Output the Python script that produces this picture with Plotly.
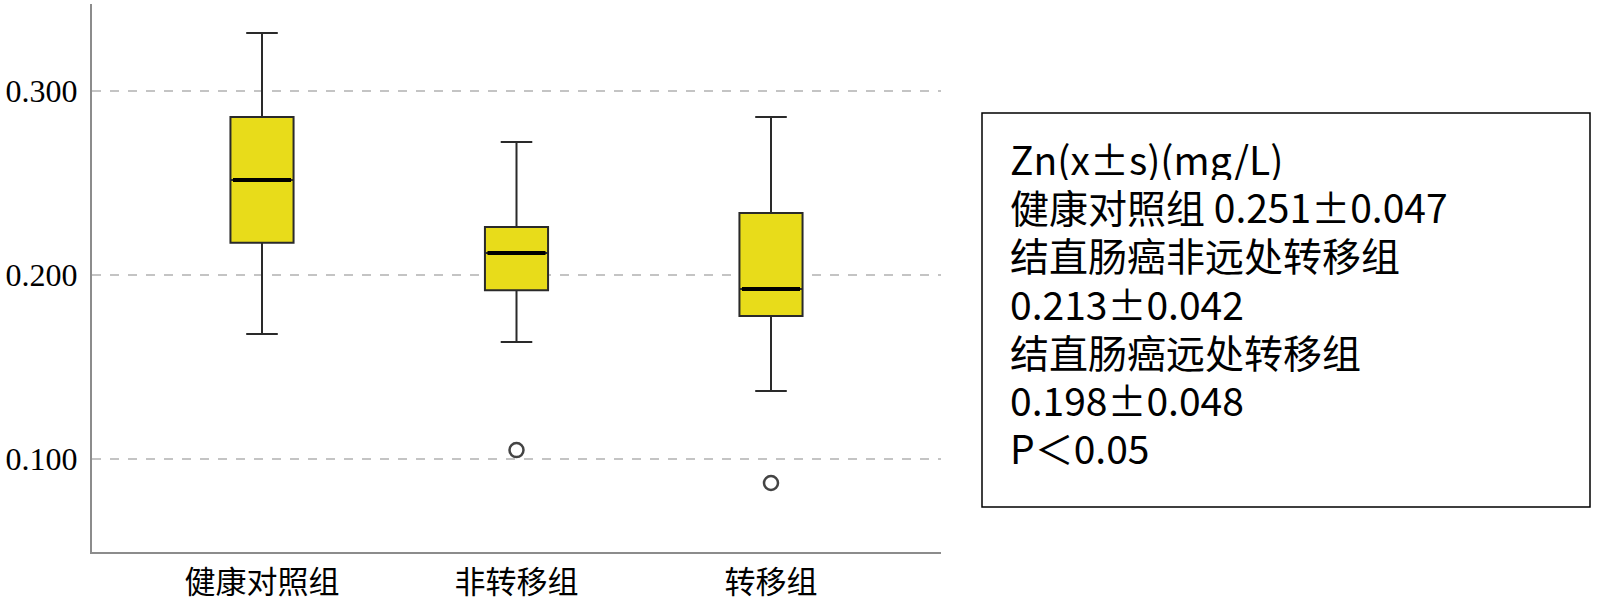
import plotly.graph_objects as go

# groups and box statistics
groups = ["健康对照组", "非转移组", "转移组"]
lower_fence = [0.168, 0.1636, 0.1370]
q1 = [0.2175, 0.1918, 0.1777]
median = [0.2516, 0.2120, 0.1924]
q3 = [0.2859, 0.2261, 0.2337]
upper_fence = [0.3315, 0.2723, 0.2859]

outlier_group = [1, 2]
outlier_value = [0.1049, 0.0870]

y_ticks = [0.1, 0.2, 0.3]
y_tick_text = ["0.100", "0.200", "0.300"]

legend_lines = [
    "Zn(x±s)(mg/L)",
    "健康对照组 0.251±0.047",
    "结直肠癌非远处转移组",
    "0.213±0.042",
    "结直肠癌远处转移组",
    "0.198±0.048",
    "P＜0.05",
]

W, H = 1600, 606
L, R, T, B = 92, 659, 4, 54
box_w = 0.248
fill = "rgb(232,220,26)"

fig = go.Figure()

for i, g in enumerate(groups):
    fig.add_trace(go.Box(
        x=[i], q1=[q1[i]], median=[median[i]], q3=[q3[i]],
        lowerfence=[lower_fence[i]], upperfence=[upper_fence[i]],
        width=box_w, whiskerwidth=0.5,
        fillcolor=fill, line=dict(color="#2a2a2a", width=2),
        boxpoints=False, hoverinfo="skip",
    ))
    # thicker median bar
    fig.add_trace(go.Scatter(
        x=[i - box_w / 2 + 0.01, i + box_w / 2 - 0.01], y=[median[i], median[i]],
        mode="lines", line=dict(color="black", width=4), hoverinfo="skip",
    ))

fig.add_trace(go.Scatter(
    x=outlier_group, y=outlier_value, mode="markers",
    marker=dict(symbol="circle-open", size=14, color="#444",
                line=dict(width=2.5, color="#444")),
    hoverinfo="skip",
))

plot_w = W - L - R
plot_h = H - T - B


def px_x(px):
    return (px - L) / plot_w


def px_y(py):
    return 1 - (py - T) / plot_h


# legend box
fig.add_shape(type="rect", xref="paper", yref="paper",
              x0=px_x(982), x1=px_x(1590), y0=px_y(507), y1=px_y(113),
              line=dict(color="black", width=1.5), fillcolor="white")

for k, line in enumerate(legend_lines):
    fig.add_annotation(
        xref="paper", yref="paper", x=px_x(1008), y=px_y(158 + k * 48.2),
        xanchor="left", yanchor="middle", text=line, showarrow=False,
        height=44, valign="middle",
        font=dict(family="Noto Sans CJK SC", size=39, color="black"),
    )

fig.update_layout(
    width=W, height=H,
    margin=dict(l=L, r=R, t=T, b=B),
    paper_bgcolor="white", plot_bgcolor="white",
    showlegend=False,
    xaxis=dict(
        range=[-0.668, 2.668], tickvals=list(range(len(groups))), ticktext=groups,
        showgrid=False, zeroline=False, showline=True, linecolor="#8c8c8c", linewidth=2,
        ticks="", ticklabelstandoff=2, automargin=False,
        tickfont=dict(family="Noto Sans CJK SC", size=31, color="black"),
    ),
    yaxis=dict(
        range=[0.0495, 0.3473], tickvals=y_ticks, ticktext=y_tick_text,
        showgrid=True, gridcolor="#c4c4c4", griddash="dash", gridwidth=1.5,
        zeroline=False, showline=True, linecolor="#8c8c8c", linewidth=2,
        ticks="", ticklabelstandoff=6, automargin=False,
        tickfont=dict(family="Liberation Serif", size=32, color="black"),
    ),
)

fig.write_html("out.html", config=dict(displayModeBar=False),
               post_script="document.body.style.margin='0';")
